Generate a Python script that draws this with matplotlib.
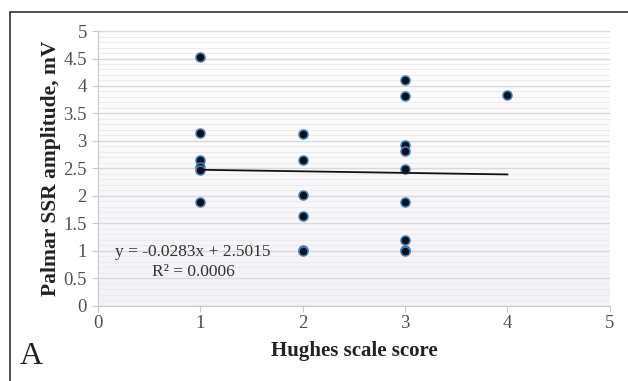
import numpy as np
import matplotlib.pyplot as plt
from matplotlib.patches import Rectangle
from matplotlib.ticker import MultipleLocator

plt.rcParams['font.family'] = ['Liberation Serif', 'DejaVu Serif']

# Hughes scale score vs palmar SSR amplitude (mV)
hughes = [1, 1, 1, 1, 1, 1,
          2, 2, 2, 2, 2, 2,
          3, 3, 3, 3, 3, 3, 3, 3, 3,
          4]
ssr = [4.53, 3.14, 2.66, 2.52, 2.47, 1.88,
       3.12, 2.65, 2.01, 1.63, 1.02, 1.00,
       4.11, 3.81, 2.93, 2.81, 2.49, 1.88, 1.19, 1.02, 1.00,
       3.83]

# linear trend as printed in the chart
slope = -0.0283
intercept = 2.5015
r2 = 0.0006

fig = plt.figure(figsize=(6.28, 3.81), dpi=100)
ax = fig.add_axes([0.156, 0.198, 0.815, 0.7205])

# plot area background, slightly grey toward the bottom
ax.imshow(np.linspace(1, 0, 100).reshape(-1, 1), extent=[0, 5, 0, 5], aspect='auto',
          cmap=plt.matplotlib.colors.LinearSegmentedColormap.from_list('bg', ['#f3f3f6', '#ffffff']),
          zorder=0)

ax.set_xlim(0, 5)
ax.set_ylim(0, 5)
ax.xaxis.set_major_locator(MultipleLocator(1))
ax.yaxis.set_minor_locator(MultipleLocator(0.1))
ax.grid(True, which='major', axis='y', color='#d8d8e0', lw=1.0, zorder=1)
ax.grid(True, which='minor', axis='y', color='#ececf0', lw=0.8, zorder=1)
ax.tick_params(axis='y', which='minor', length=0)
ax.tick_params(axis='both', which='major', colors='#c8c8cc', labelcolor='#505050',
               labelsize=13.5, length=4, direction='out')
ax.set_yticks(np.arange(0, 5.01, 0.5))
ax.set_yticklabels(['0', '0.5', '1', '1.5', '2', '2.5', '3', '3.5', '4', '4.5', '5'])
ax.tick_params(axis='x', pad=3)
ax.tick_params(axis='y', pad=4)
for s in ['top', 'right']:
    ax.spines[s].set_visible(False)
for s in ['left', 'bottom']:
    ax.spines[s].set_color('#c8c8cc')

ax.scatter(hughes, ssr, s=42, color='#111111', edgecolors='#3f7fc0', linewidths=1.1, zorder=3)

xs = np.array([min(hughes), max(hughes)])
ax.plot(xs, slope * xs + intercept, color='#111111', lw=1.3, zorder=4)

ax.text(0.93, 0.98, 'y = -0.0283x + 2.5015', fontsize=12.5, color='#333333', ha='center', va='center', zorder=5)
ax.text(0.93, 0.61, 'R² = 0.0006', fontsize=12.5, color='#333333', ha='center', va='center', zorder=5)

ax.set_xlabel('Hughes scale score', fontsize=15, fontweight='bold', color='#222222', labelpad=6)
ax.set_ylabel('Palmar SSR amplitude, mV', fontsize=15.5, fontweight='bold', color='#222222', labelpad=2)

fig.text(20 / 628, 1 - 356 / 381, 'A', fontsize=23, color='#222222', va='center', ha='left')

fig.patches.append(Rectangle((10 / 628, -0.1), 1.2, 1 - 12 / 381 + 0.1, transform=fig.transFigure,
                             fill=False, edgecolor='#333333', lw=1.2))

fig.savefig('out.png', dpi=100)
